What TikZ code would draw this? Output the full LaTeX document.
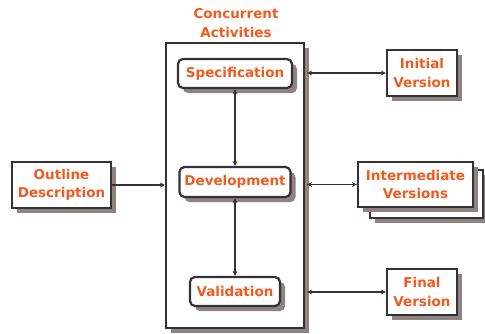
\documentclass[tikz,border=0pt]{standalone}
\usepackage{fontspec}
\setmainfont{DejaVu Sans}
\usetikzlibrary{arrows.meta,shadows}
\definecolor{actred}{HTML}{F25A1E}
\definecolor{boxline}{HTML}{333333}
\definecolor{shade}{HTML}{8E8282}
\begin{document}
\begin{tikzpicture}[x=1pt,y=-1pt]
\tikzstyle{every node}+=[inner sep=0pt, text=actred, align=center, font=\bfseries\fontsize{13.5}{18.5}\selectfont]
\tikzstyle{plain}=[draw=boxline, line width=2.2pt, fill=white, drop shadow={shadow xshift=5pt, shadow yshift=-5pt, fill=shade, opacity=1}]
\tikzstyle{act}=[plain, rounded corners=5pt, minimum height=29pt]
\tikzstyle{link}=[draw=boxline, line width=1.3pt, {Stealth[length=5pt,width=5pt]}-{Stealth[length=5pt,width=5pt]}]
\useasboundingbox (0,0) rectangle (485,333);
\node (title) at (236,23) {Concurrent\\Activities};
\node [plain, minimum width=138pt, minimum height=285pt] (conc) at (235,185.5) {};
\node [act, minimum width=114pt] (spec) at (235,73.5) {Specification};
\node [act, minimum width=111pt, minimum height=30pt] (devel) at (235,182) {Development};
\node [act, minimum width=90pt] (valid) at (235,291.5) {Validation};
\node [plain, minimum width=99pt, minimum height=46pt] (outline) at (61.5,185) {Outline\\Description};
\node [plain, minimum width=70pt, minimum height=46pt] (initial) at (422,73) {Initial\\Version};
\node [plain, minimum width=113pt, minimum height=48pt] (back) at (426.5,194) {};
\node [plain, minimum width=115pt, minimum height=45pt] (interm) at (415.5,184.5) {Intermediate\\Versions};
\node [plain, minimum width=70pt, minimum height=46pt] (final) at (422,292) {Final\\Version};
\draw [draw=boxline, line width=1.3pt, -{Stealth[length=5pt,width=5pt]}] (outline) -- (conc.west |- outline);
\draw [link] (spec) -- (devel);
\draw [link] (devel) -- (valid);
\draw [link] ([xshift=2pt]conc.east |- initial) -- (initial.west);
\draw [link] ([xshift=2pt]conc.east |- interm) -- (interm.west);
\draw [link] ([xshift=2pt]conc.east |- final) -- (final.west);
\end{tikzpicture}
\end{document}
